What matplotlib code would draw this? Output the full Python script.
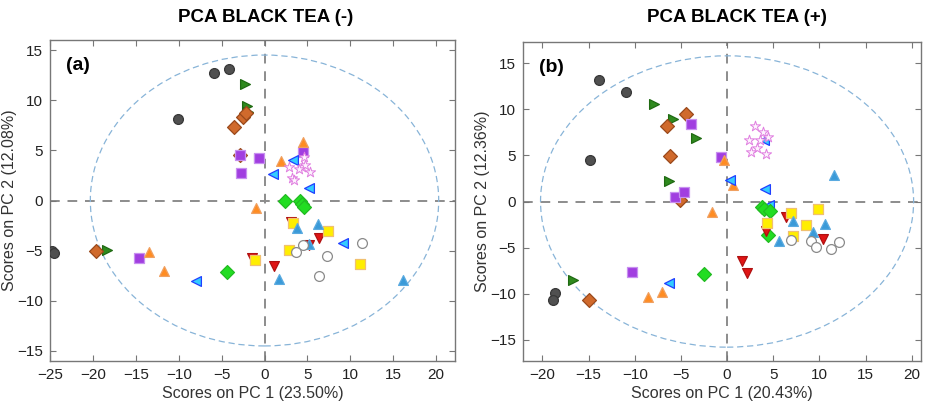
import matplotlib.pyplot as plt
from matplotlib.patches import Ellipse

plt.rcParams['font.family'] = ['Liberation Sans', 'DejaVu Sans']

# scores (PC1, PC2) for each sample group, panel (a) = tea (-)
dark_a = [(-5.9, 12.7), (-4.1, 13.1), (-10.1, 8.1), (-24.8, -5.0), (-24.5, -5.2)]
green_tri_a = [(-2.3, 11.6), (-2.05, 9.4), (-1.95, 8.8), (-0.7, 4.2), (-18.4, -4.9)]
brown_a = [(-2.5, 8.3), (-2.2, 8.7), (-3.6, 7.35), (-2.9, 4.5), (-19.6, -5.0)]
purple_a = [(-2.9, 4.5), (-2.7, 2.75), (-0.7, 4.2), (4.45, 4.87), (-14.6, -5.7)]
orange_a = [(4.45, 5.8), (1.94, 3.97), (-0.97, -0.73), (-13.5, -5.13), (-11.7, -7.05)]
cyan_a = [(0.97, 2.6), (3.3, 4.0), (5.15, 1.26), (9.1, -4.24), (-7.94, -8.04)]
star_a = [(4.55, 4.3), (2.8, 3.3), (4.36, 3.38), (4.75, 3.55), (5.33, 2.81),
          (3.2, 2.25), (3.38, 2.06), (4.05, 3.18)]
lime_a = [(2.4, 0.0), (4.17, 0.0), (4.36, -0.33), (4.63, -0.66), (-4.34, -7.1)]
red_a = [(3.1, -2.1), (6.4, -3.7), (5.15, -4.47), (1.16, -6.55), (-1.4, -5.7)]
yellow_a = [(3.3, -2.25), (7.36, -3.08), (2.9, -4.97), (11.1, -6.3), (-1.16, -5.9)]
blue_a = [(3.8, -2.7), (6.2, -2.3), (1.66, -7.8), (16.1, -7.95), (5.15, -4.3)]
open_a = [(11.4, -4.2), (4.45, -4.47), (3.68, -5.13), (7.25, -5.53), (6.4, -7.55)]

# panel (b) = tea (+)
dark_b = [(-13.9, 13.2), (-11.0, 11.85), (-14.8, 4.5), (-18.6, -9.9), (-18.9, -10.7)]
green_tri_b = [(-7.93, 10.6), (-5.9, 8.95), (-3.37, 6.9), (-6.3, 2.17), (-16.7, -8.5)]
brown_b = [(-4.46, 9.5), (-6.55, 8.15), (-6.2, 4.9), (-5.1, 0.18), (-15.0, -10.7)]
purple_b = [(-3.95, 8.4), (-0.65, 4.78), (-5.65, 0.47), (-4.64, 1.0), (-10.25, -7.7)]
orange_b = [(-0.33, 4.46), (0.69, 1.74), (-1.63, -1.16), (-8.55, -10.4), (-7.1, -9.86)]
cyan_b = [(3.95, 6.7), (0.33, 2.3), (4.06, 1.38), (4.5, -0.36), (-6.3, -8.8)]
star_b = [(3.04, 8.15), (3.84, 7.5), (2.32, 6.63), (3.6, 6.7), (4.38, 6.96),
          (3.22, 5.8), (2.57, 5.36), (4.2, 5.14)]
lime_b = [(3.75, -0.6), (4.0, -0.8), (4.65, -1.05), (4.47, -3.65), (-2.5, -7.9)]
red_b = [(6.4, -1.7), (4.24, -3.15), (10.36, -4.1), (1.66, -6.4), (2.14, -7.8)]
yellow_b = [(6.9, -1.27), (9.85, -0.8), (4.3, -2.36), (8.6, -2.6), (7.14, -3.7)]
blue_b = [(11.55, 2.9), (7.1, -2.07), (10.6, -2.43), (9.3, -3.26), (5.6, -4.24)]
open_b = [(6.96, -4.17), (9.1, -4.24), (9.64, -4.9), (11.2, -5.18), (12.17, -4.4)]

styles = {
    'dark': dict(marker='o', fc='#505050', ec='#383838'),
    'green_tri': dict(marker='>', fc='#2f8a1e', ec='#1f6a12'),
    'brown': dict(marker='D', fc='#d06a2c', ec='#9a4a1c'),
    'purple': dict(marker='s', fc='#a13ee0', ec='#c890f0'),
    'orange': dict(marker='^', fc='#ff8c22', ec='#f0a060'),
    'cyan': dict(marker='<', fc='#33ccff', ec='#2040ff'),
    'star': dict(marker='*', fc='#fdf2fd', ec='#e07ee0'),
    'lime': dict(marker='D', fc='#22dd22', ec='#22bb22'),
    'red': dict(marker='v', fc='#e01414', ec='#b01010'),
    'yellow': dict(marker='s', fc='#ffee00', ec='#f0c070'),
    'blue': dict(marker='^', fc='#3a9ad8', ec='#5aaae0'),
    'open': dict(marker='o', fc='white', ec='#8a8a8a'),
}

panels = [
    dict(groups={'dark': dark_a, 'green_tri': green_tri_a, 'brown': brown_a, 'purple': purple_a,
                 'orange': orange_a, 'cyan': cyan_a, 'star': star_a, 'lime': lime_a,
                 'red': red_a, 'yellow': yellow_a, 'blue': blue_a, 'open': open_a},
         title='PCA BLACK TEA (-)', tag='(a)', xlab='Scores on PC 1 (23.50%)',
         ylab='Scores on PC 2 (12.08%)', xlim=(-25, 22.2), ylim=(-16, 16),
         ell=(40.6, 29.0), rect=[50 / 927, 40 / 401, 405 / 927, 321 / 401], title_x=266),
    dict(groups={'dark': dark_b, 'green_tri': green_tri_b, 'brown': brown_b, 'purple': purple_b,
                 'orange': orange_b, 'cyan': cyan_b, 'star': star_b, 'lime': lime_b,
                 'red': red_b, 'yellow': yellow_b, 'blue': blue_b, 'open': open_b},
         title='PCA BLACK TEA (+)', tag='(b)', xlab='Scores on PC 1 (20.43%)',
         ylab='Scores on PC 2 (12.36%)', xlim=(-22.1, 21.0), ylim=(-17.3, 17.3),
         ell=(40.4, 31.6), rect=[523 / 927, 42 / 401, 398 / 927, 319 / 401], title_x=737),
]

fig = plt.figure(figsize=(9.27, 4.01), dpi=100)

for p in panels:
    l, b, w, h = p['rect']
    ax = fig.add_axes([l, 1 - b - h, w, h])
    ax.set_xlim(*p['xlim'])
    ax.set_ylim(*p['ylim'])

    ax.axhline(0, color='#8c8c8c', ls=(0, (5, 4)), lw=1.4, zorder=1)
    ax.axvline(0, color='#8c8c8c', ls=(0, (5, 4)), lw=1.4, zorder=1)
    ax.add_patch(Ellipse((0, 0), p['ell'][0], p['ell'][1], fill=False,
                         ec='#88b4d8', ls=(0, (5, 3)), lw=0.9, zorder=1))

    for name, pts in p['groups'].items():
        st = styles[name]
        xs = [q[0] for q in pts]
        ys = [q[1] for q in pts]
        size = 60 if name == 'star' else 50
        lw = 0.7 if name == 'star' else 0.9
        ax.scatter(xs, ys, marker=st['marker'], s=size, facecolor=st['fc'],
                   edgecolor=st['ec'], linewidth=lw, zorder=3)

    ax.set_xticks([-25, -20, -15, -10, -5, 0, 5, 10, 15, 20])
    ax.set_yticks([-15, -10, -5, 0, 5, 10, 15])
    ax.set_xlim(*p['xlim'])
    ax.tick_params(direction='in', top=True, right=True, length=4.5, width=0.8,
                   color='#777777', labelsize=11, labelcolor='#222222', pad=5)
    for sp in ax.spines.values():
        sp.set_color('#777777')
        sp.set_linewidth(1.0)

    ax.set_xlabel(p['xlab'], fontsize=11.5, color='#333333', labelpad=3)
    ax.set_ylabel(p['ylab'], fontsize=11.5, color='#333333', labelpad=0)
    ax.text(0.04, 0.92, p['tag'], transform=ax.transAxes, fontsize=14,
            fontweight='bold', va='center', ha='left')
    fig.text(p['title_x'] / 927, 1 - 18 / 401, p['title'], fontsize=13.5,
             fontweight='bold', ha='center', va='center')

fig.savefig('out.png', dpi=100)
